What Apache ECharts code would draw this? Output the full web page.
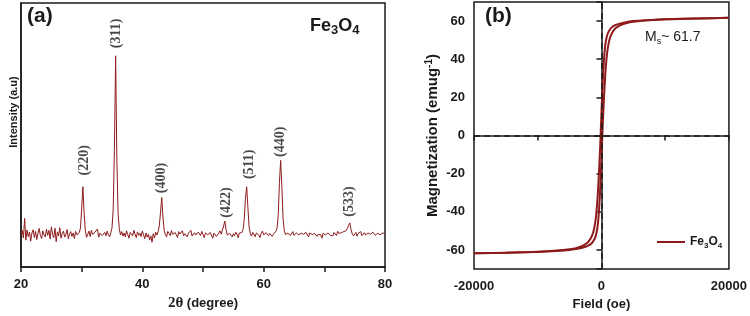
<!DOCTYPE html>
<html>
<head>
<meta charset="utf-8">
<script src="https://cdn.jsdelivr.net/npm/echarts@6/dist/echarts.min.js"></script>
<style>
  html, body { margin: 0; padding: 0; background: #fff; }
  #chart { width: 750px; height: 316px; }
</style>
</head>
<body>
<div id="chart"></div>
<script>
  // XRD pattern, [2theta, intensity a.u.]
  var xrdData = [
    [20.0,12.1],[20.2,13.8],[20.4,11.0],[20.6,18.4],[20.8,10.2],[21.0,14.0],[21.2,11.5],[21.4,13.2],[21.6,9.8],[21.8,12.9],
    [22.0,14.1],[22.2,11.2],[22.4,13.5],[22.6,10.4],[22.8,12.8],[23.0,14.6],[23.2,11.9],[23.4,10.8],[23.6,13.7],[23.8,12.2],
    [24.0,11.4],[24.2,14.3],[24.4,12.0],[24.6,13.9],[24.8,10.6],[25.0,15.2],[25.2,12.5],[25.4,11.1],[25.6,14.7],[25.8,9.6],
    [26.0,13.3],[26.2,11.8],[26.4,14.9],[26.6,10.9],[26.8,12.7],[27.0,13.6],[27.2,11.3],[27.4,12.4],[27.6,14.2],[27.8,10.7],
    [28.0,12.6],[28.2,13.4],[28.4,11.6],[28.6,12.9],[28.8,10.8],[29.0,13.5],[29.2,12.2],[29.4,11.9],[29.6,13.0],[29.8,14.8],
    [30.0,22.0],[30.2,30.4],[30.4,20.5],[30.6,13.9],[30.8,11.2],[31.0,12.4],[31.2,13.6],[31.4,11.5],[31.6,13.9],[31.8,12.3],
    [32.0,11.6],[32.2,13.2],[32.4,12.7],[32.6,14.4],[32.8,11.3],[33.0,12.8],[33.2,13.3],[33.4,11.9],[33.6,12.5],[33.8,13.1],
    [34.0,11.8],[34.2,13.6],[34.4,12.2],[34.6,11.4],[34.8,13.0],[35.0,14.8],[35.2,22.0],[35.4,45.0],[35.6,80.0],[35.8,41.0],
    [36.0,20.5],[36.2,14.6],[36.4,12.1],[36.6,13.4],[36.8,11.7],[37.0,12.9],[37.2,11.4],[37.4,13.7],[37.6,12.3],[37.8,10.9],
    [38.0,13.1],[38.2,12.6],[38.4,11.8],[38.6,13.9],[38.8,12.4],[39.0,11.1],[39.2,13.3],[39.4,12.0],[39.6,12.8],[39.8,11.5],
    [40.0,13.6],[40.2,12.2],[40.4,10.7],[40.6,12.9],[40.8,11.3],[41.0,12.4],[41.2,10.2],[41.4,11.8],[41.6,9.4],[41.8,12.6],
    [42.0,11.0],[42.2,13.2],[42.4,12.1],[42.6,13.4],[42.8,15.6],[43.0,20.8],[43.2,26.3],[43.4,18.9],[43.6,13.8],[43.8,12.2],
    [44.0,11.4],[44.2,13.5],[44.4,12.7],[44.6,11.9],[44.8,13.8],[45.0,12.3],[45.2,11.6],[45.4,13.1],[45.6,12.9],[45.8,11.2],
    [46.0,13.4],[46.2,12.5],[46.4,12.0],[46.6,13.7],[46.8,11.8],[47.0,12.6],[47.2,13.3],[47.4,11.4],[47.6,12.8],[47.8,12.2],
    [48.0,13.9],[48.2,11.7],[48.4,12.4],[48.6,13.0],[48.8,12.1],[49.0,11.5],[49.2,13.2],[49.4,12.7],[49.6,11.9],[49.8,13.5],
    [50.0,12.3],[50.2,11.1],[50.4,12.9],[50.6,13.6],[50.8,12.2],[51.0,11.8],[51.2,13.1],[51.4,12.5],[51.6,10.9],[51.8,12.8],
    [52.0,13.4],[52.2,11.6],[52.4,12.3],[52.6,12.9],[52.8,13.7],[53.0,12.4],[53.2,14.0],[53.4,15.6],[53.6,17.4],[53.8,14.2],
    [54.0,12.1],[54.2,11.6],[54.4,12.8],[54.6,13.3],[54.8,11.4],[55.0,12.6],[55.2,11.8],[55.4,13.2],[55.6,12.4],[55.8,11.1],
    [56.0,12.9],[56.2,12.3],[56.4,13.0],[56.6,14.2],[56.8,18.0],[57.0,26.0],[57.2,30.4],[57.4,22.5],[57.6,15.2],[57.8,12.6],
    [58.0,11.7],[58.2,13.1],[58.4,12.4],[58.6,11.5],[58.8,12.9],[59.0,13.4],[59.2,12.1],[59.4,11.2],[59.6,12.8],[59.8,13.6],
    [60.0,12.2],[60.2,11.7],[60.4,13.0],[60.6,12.5],[60.8,11.9],[61.0,12.7],[61.2,13.3],[61.4,11.6],[61.6,12.4],[61.8,12.9],
    [62.0,13.5],[62.2,14.6],[62.4,19.5],[62.6,32.0],[62.8,40.4],[63.0,30.5],[63.2,18.2],[63.4,13.9],[63.6,12.3],[63.8,11.6],
    [64.0,12.8],[64.2,13.2],[64.4,11.9],[64.6,12.5],[64.8,13.4],[65.0,12.0],[65.2,11.5],[65.4,12.9],[65.6,13.3],[65.8,12.2],
    [66.0,11.7],[66.2,12.8],[66.4,13.5],[66.6,12.4],[66.8,11.9],[67.0,13.1],[67.2,12.6],[67.4,11.4],[67.6,12.9],[67.8,13.6],
    [68.0,12.3],[68.2,11.8],[68.4,12.7],[68.6,13.2],[68.8,11.6],[69.0,12.4],[69.2,13.0],[69.4,12.2],[69.6,10.9],[69.8,12.8],
    [70.0,13.4],[70.2,12.1],[70.4,11.5],[70.6,12.9],[70.8,13.3],[71.0,12.0],[71.2,12.6],[71.4,11.8],[71.6,13.1],[71.8,12.5],
    [72.0,11.9],[72.2,13.5],[72.4,12.7],[72.6,12.2],[72.8,13.0],[73.0,12.4],[73.2,13.4],[73.4,12.9],[73.6,13.8],[73.8,14.6],
    [74.0,15.8],[74.2,16.7],[74.4,14.2],[74.6,12.6],[74.8,11.8],[75.0,12.4],[75.2,13.1],[75.4,11.7],[75.6,12.8],[75.8,12.2],
    [76.0,13.4],[76.2,11.9],[76.4,12.6],[76.6,13.0],[76.8,12.1],[77.0,11.5],[77.2,12.9],[77.4,13.3],[77.6,12.4],[77.8,11.8],
    [78.0,13.2],[78.2,12.7],[78.4,12.0],[78.6,11.4],[78.8,12.8],[79.0,13.3],[79.2,12.2],[79.4,11.7],[79.6,12.9],[79.8,13.5],
    [80.0,12.6]
  ]

  // hkl labels: [2theta, label centre height]
  var peakNames = ['(220)', '(311)', '(400)', '(422)', '(511)', '(440)', '(533)']
  var peakPos = [[30.4, 40.4], [35.8, 88.5], [43.2, 33.7], [53.8, 24.4], [57.6, 38.9], [62.7, 47.4], [74.2, 24.8]]

  // M-H loop, panel (b): field (oe), magnetization (emu/g)
  var descBranch = [
    [20000,61.7],[15000,61.4],[10000,61.0],[7000,60.5],[5000,60.0],[4000,59.5],[3000,58.8],[2500,58.3],
    [2000,57.6],[1500,56.3],[1200,54.9],[1000,53.5],[800,51.3],[600,47.5],[400,40.0],[200,28.0],[0,12.0],
    [-100,3.0],[-200,-5.5],[-300,-13.0],[-400,-20.0],[-600,-32.0],[-800,-40.5],[-1000,-46.0],[-1300,-50.8],
    [-1700,-54.0],[-2200,-56.2],[-3000,-57.9],[-4000,-59.0],[-5000,-59.6],[-7000,-60.3],[-10000,-60.9],
    [-15000,-61.4],[-20000,-61.7]
  ]
  var ascBranch = [
    [-20000,-61.7],[-15000,-61.4],[-10000,-61.0],[-7000,-60.5],[-5000,-60.0],[-4000,-59.5],[-3000,-58.8],[-2500,-58.3],
    [-2000,-57.6],[-1500,-56.3],[-1200,-54.9],[-1000,-53.5],[-800,-51.3],[-600,-47.5],[-400,-40.0],[-200,-28.0],[0,-12.0],
    [100,-3.0],[200,5.5],[300,13.0],[400,20.0],[600,32.0],[800,40.5],[1000,46.0],[1300,50.8],
    [1700,54.0],[2200,56.2],[3000,57.9],[4000,59.0],[5000,59.6],[7000,60.3],[10000,60.9],
    [15000,61.4],[20000,61.7]
  ]

  var lineColor = '#8e1b1b'
  var ink = '#1a1a1a'
  var sans = 'Liberation Sans'

  var chart = echarts.init(document.getElementById('chart'), null, { renderer: 'canvas' })

  var tickLabel = { fontFamily: sans, fontWeight: 'bold', fontSize: 13, color: ink }
  var axisLine = { lineStyle: { color: ink, width: 1.5 } }
  var axisTick = { length: 5, lineStyle: { color: ink, width: 1.5 } }
  var subRich = {
    m: { fontFamily: sans, fontWeight: 'bold', fontSize: 12, color: ink, lineHeight: 16 },
    s: { fontFamily: sans, fontWeight: 'bold', fontSize: 8, color: ink, lineHeight: 9, verticalAlign: 'bottom' }
  }

  var option = {
    animation: false,
    backgroundColor: '#fff',
    grid: [
      { left: 21, top: 3, width: 364, height: 270, show: true, borderColor: ink, borderWidth: 1.5 },
      { left: 474, top: 2, width: 255, height: 268, show: true, borderColor: ink, borderWidth: 1.5 }
    ],
    xAxis: [
      {
        gridIndex: 0, type: 'value', min: 20, max: 80, interval: 20,
        axisLine: axisLine, axisTick: axisTick,
        minorTick: { show: true, splitNumber: 2, length: 5, lineStyle: { color: ink, width: 1.5 } },
        splitLine: { show: false },
        axisLabel: Object.assign({ margin: 11 }, tickLabel),
        name: '{t|2θ} (degree)', nameLocation: 'middle', nameGap: 29,
        nameTextStyle: {
          fontFamily: sans, fontWeight: 'bold', fontSize: 13, color: ink,
          rich: { t: { fontFamily: 'Liberation Serif', fontSize: 15, color: ink } }
        }
      },
      {
        gridIndex: 1, type: 'value', min: -20000, max: 20000, interval: 20000,
        axisLine: axisLine, axisTick: axisTick,
        minorTick: { show: true, splitNumber: 2, length: 5, lineStyle: { color: ink, width: 1.5 } },
        splitLine: { show: false },
        axisLabel: Object.assign({ margin: 11, formatter: function (v) { return String(v) } }, tickLabel),
        name: 'Field (oe)', nameLocation: 'middle', nameGap: 25,
        nameTextStyle: { fontFamily: sans, fontWeight: 'bold', fontSize: 13, color: ink }
      }
    ],
    yAxis: [
      {
        gridIndex: 0, type: 'value', min: 0, max: 100,
        axisLine: { show: true, lineStyle: { color: ink, width: 1.5 } },
        axisTick: { show: false }, axisLabel: { show: false }, splitLine: { show: false }
      },
      {
        gridIndex: 1, type: 'value', min: -70, max: 70, splitNumber: 7,
        axisLine: axisLine, axisTick: axisTick,
        splitLine: { show: false },
        axisLabel: Object.assign({
          margin: 9,
          formatter: function (v) { return v % 20 === 0 ? String(v) : '' }
        }, tickLabel),
        name: 'Magnetization (emug{sup|-1})', nameLocation: 'middle', nameGap: 31,
        nameTextStyle: {
          fontFamily: sans, fontWeight: 'bold', fontSize: 15, color: ink, lineHeight: 18,
          rich: { sup: { fontFamily: sans, fontWeight: 'bold', fontSize: 10, color: ink, lineHeight: 10, verticalAlign: 'top' } }
        }
      }
    ],
    legend: {
      data: ['Fe3O4'],
      left: 652, top: 231,
      icon: 'rect', itemWidth: 28, itemHeight: 2,
      formatter: function () { return '{m|Fe}{s|3}{m|O}{s|4}' },
      textStyle: { rich: subRich }
    },
    graphic: [
      { type: 'text', left: 27, top: 6, style: { text: '(a)', fontFamily: sans, fontWeight: 'bold', fontSize: 21, fill: ink } },
      { type: 'text', left: 485, top: 6, style: { text: '(b)', fontFamily: sans, fontWeight: 'bold', fontSize: 21, fill: ink } },
      {
        type: 'text', left: 310, top: 17,
        style: {
          text: '{m|Fe}{s|3}{m|O}{s|4}',
          rich: {
            m: { fontFamily: sans, fontWeight: 'bold', fontSize: 18, fill: ink, lineHeight: 22 },
            s: { fontFamily: sans, fontWeight: 'bold', fontSize: 13, fill: ink, lineHeight: 14, verticalAlign: 'bottom' }
          }
        }
      },
      {
        type: 'text', left: 645, top: 30,
        style: {
          text: '{m|M}{s|s}{m|~ 61.7}',
          rich: {
            m: { fontFamily: sans, fontSize: 14, fill: ink, lineHeight: 18 },
            s: { fontFamily: sans, fontSize: 9, fill: ink, lineHeight: 9, verticalAlign: 'bottom' }
          }
        }
      },
      {
        type: 'text', x: 14, y: 112, rotation: Math.PI / 2,
        style: {
          text: 'Intensity (a.u)', fontFamily: sans, fontWeight: 'bold', fontSize: 11, fill: ink,
          align: 'center', verticalAlign: 'middle'
        }
      }
    ],
    series: [
      {
        type: 'line', xAxisIndex: 0, yAxisIndex: 0, data: xrdData,
        symbol: 'none', silent: true,
        lineStyle: { color: lineColor, width: 1 }
      },
      {
        type: 'scatter', xAxisIndex: 0, yAxisIndex: 0, symbolSize: 0, silent: true,
        data: peakNames.map(function (n, i) { return { name: n, value: peakPos[i] } }),
        label: {
          show: true, position: 'inside', rotate: 90, formatter: '{b}',
          fontFamily: 'Liberation Serif', fontWeight: 'bold', fontSize: 14, color: ink
        }
      },
      {
        name: 'Fe3O4', type: 'line', xAxisIndex: 1, yAxisIndex: 1, data: descBranch,
        symbol: 'none', smooth: 0.3, silent: true,
        itemStyle: { color: lineColor },
        lineStyle: { color: lineColor, width: 2 },
        markLine: {
          silent: true, symbol: 'none', label: { show: false },
          lineStyle: { color: ink, type: [6, 4], width: 1.5 },
          data: [{ xAxis: 0 }, { yAxis: 0 }]
        }
      },
      {
        name: 'Fe3O4', type: 'line', xAxisIndex: 1, yAxisIndex: 1, data: ascBranch,
        symbol: 'none', smooth: 0.3, silent: true,
        itemStyle: { color: lineColor },
        lineStyle: { color: lineColor, width: 2 }
      }
    ]
  }

  chart.setOption(option)
</script>
</body>
</html>
